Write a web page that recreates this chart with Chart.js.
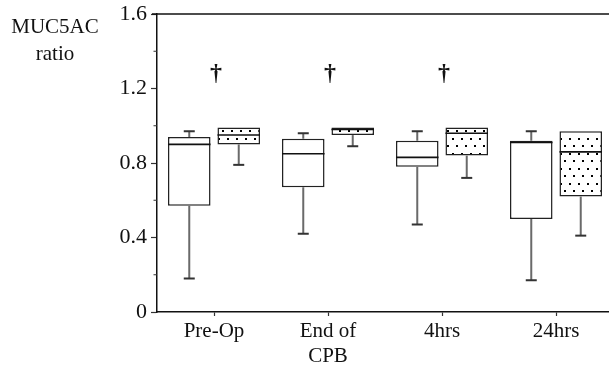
<!DOCTYPE html>
<html>
<head>
<meta charset="utf-8">
<script src="https://cdn.jsdelivr.net/npm/chart.js@4.4.0/dist/chart.umd.min.js"></script>
<style>
    html, body { margin: 0; padding: 0; background: #fff; overflow: hidden; }
</style>
</head>
<body>
<canvas id="myChart" width="613" height="366"></canvas>
<script>
// box plot values (MUC5AC ratio)
const categories = ['Pre-Op', ['End of', 'CPB'], '4hrs', '24hrs'];

const plainMin    = [0.18, 0.42, 0.47, 0.17];
const plainQ1     = [0.57, 0.67, 0.78, 0.50];
const plainMedian = [0.90, 0.85, 0.83, 0.91];
const plainQ3     = [0.94, 0.93, 0.92, 0.92];
const plainMax    = [0.97, 0.96, 0.97, 0.97];

const dottedMin    = [0.79, 0.89, 0.72, 0.41];
const dottedQ1     = [0.90, 0.95, 0.84, 0.62];
const dottedMedian = [0.95, 0.98, 0.96, 0.86];
const dottedQ3     = [0.99, 0.99, 0.99, 0.97];
const dottedMax    = [0.99, 0.99, 0.99, 0.97];

// dagger marks (significance) above the groups
const daggers = [1.28, 1.28, 1.28, null];

const yTicks = [0, 0.4, 0.8, 1.2, 1.6];
const yMinorTicks = [0.2, 0.6, 1.0, 1.4];

const FONT = "'Liberation Serif', 'Times New Roman', serif";

function isMajor(v) {
    return yTicks.some(t => Math.abs(t - v) < 1e-6);
}

function dotPattern() {
    const c = document.createElement('canvas');
    c.width = 9;
    c.height = 15;
    const g = c.getContext('2d');
    g.fillStyle = '#fff';
    g.fillRect(0, 0, 9, 15);
    g.fillStyle = '#000';
    g.fillRect(2, 3, 2, 2);
    g.fillRect(6, 10, 2, 2);
    return g.createPattern(c, 'repeat');
}

const boxPlugin = {
    id: 'boxWhiskers',
    afterDatasetsDraw(chart) {
        const ctx = chart.ctx;
        const y = chart.scales.y;
        chart.data.datasets.forEach((ds, i) => {
            const meta = chart.getDatasetMeta(i);
            meta.data.forEach((bar, j) => {
                const x = bar.x;
                const half = bar.width / 2;
                const lo = y.getPixelForValue(ds.lows[j]);
                const q1 = y.getPixelForValue(ds.data[j][0]);
                const q3 = y.getPixelForValue(ds.data[j][1]);
                const hi = y.getPixelForValue(ds.highs[j]);
                const med = y.getPixelForValue(ds.medians[j]);

                ctx.save();
                // whiskers
                ctx.strokeStyle = '#6a6a6a';
                ctx.lineWidth = 2;
                ctx.beginPath();
                if (hi < q3 - 0.5) {
                    ctx.moveTo(x, q3);
                    ctx.lineTo(x, hi);
                }
                ctx.moveTo(x, q1);
                ctx.lineTo(x, lo);
                ctx.stroke();
                // caps
                ctx.strokeStyle = '#333';
                ctx.lineWidth = 2;
                ctx.beginPath();
                ctx.moveTo(x - 5.5, lo);
                ctx.lineTo(x + 5.5, lo);
                if (hi < q3 - 0.5) {
                    ctx.moveTo(x - 5.5, hi);
                    ctx.lineTo(x + 5.5, hi);
                }
                ctx.stroke();
                // median
                ctx.strokeStyle = '#111';
                ctx.lineWidth = 1.6;
                ctx.beginPath();
                ctx.moveTo(x - half, med);
                ctx.lineTo(x + half, med);
                ctx.stroke();
                ctx.restore();
            });
        });
    },
    afterDraw(chart) {
        const ctx = chart.ctx;
        const area = chart.chartArea;
        const xs = chart.scales.x;
        const y = chart.scales.y;
        ctx.save();
        // top frame line
        ctx.strokeStyle = '#111';
        ctx.lineWidth = 1.5;
        ctx.beginPath();
        ctx.moveTo(area.left - 5, area.top);
        ctx.lineTo(area.right, area.top);
        ctx.stroke();

        // short minor ticks on the y axis
        ctx.strokeStyle = '#333';
        ctx.lineWidth = 1.2;
        ctx.beginPath();
        yMinorTicks.forEach(v => {
            const py = y.getPixelForValue(v);
            ctx.moveTo(area.left - 3.5, py);
            ctx.lineTo(area.left, py);
        });
        ctx.stroke();

        // daggers
        ctx.fillStyle = '#111';
        ctx.font = 'bold 24px ' + FONT;
        ctx.textAlign = 'center';
        ctx.textBaseline = 'middle';
        daggers.forEach((v, j) => {
            if (v === null) return;
            ctx.fillText('\u2020', xs.getPixelForValue(j) + 2, y.getPixelForValue(v));
        });

        // axis title, written flat in the top left corner
        ctx.font = '21px ' + FONT;
        ctx.textBaseline = 'alphabetic';
        ctx.fillText('MUC5AC', 55, 33);
        ctx.fillText('ratio', 55, 60);
        ctx.restore();
    }
};

new Chart('myChart', {
    type: 'bar',
    data: {
        labels: categories,
        datasets: [
            {
                data: plainQ1.map((v, i) => [v, plainQ3[i]]),
                lows: plainMin,
                highs: plainMax,
                medians: plainMedian,
                backgroundColor: '#fff',
                borderColor: '#222',
                borderWidth: 1.5,
                borderSkipped: false
            },
            {
                data: dottedQ1.map((v, i) => [v, dottedQ3[i]]),
                lows: dottedMin,
                highs: dottedMax,
                medians: dottedMedian,
                backgroundColor: dotPattern(),
                borderColor: '#222',
                borderWidth: 1.5,
                borderSkipped: false
            }
        ]
    },
    options: {
        responsive: false,
        animation: false,
        categoryPercentage: 0.868,
        barPercentage: 0.86,
        layout: { padding: { top: 14, right: 0, bottom: 0, left: 0 } },
        plugins: {
            legend: { display: false },
            tooltip: { enabled: false }
        },
        scales: {
            x: {
                afterFit: s => { s.height = 54; },
                grid: {
                    offset: false,
                    drawOnChartArea: false,
                    tickLength: 4,
                    tickColor: '#333',
                    tickWidth: 1.2
                },
                border: { display: true, color: '#111', width: 1.5 },
                ticks: {
                    color: '#111',
                    padding: 3,
                    font: { family: FONT, size: 21 }
                }
            },
            y: {
                min: 0,
                max: 1.6,
                afterFit: s => {
                    s.width = 157;
                    s.paddingTop = 0;
                    s.paddingBottom = 0;
                },
                grid: {
                    drawOnChartArea: false,
                    tickLength: 6,
                    tickColor: c => isMajor(c.tick.value) ? '#333' : 'rgba(0,0,0,0)',
                    tickWidth: 1.2
                },
                border: { display: true, color: '#111', width: 1.5 },
                ticks: {
                    stepSize: 0.2,
                    color: '#111',
                    padding: 4,
                    font: { family: FONT, size: 22 },
                    callback: v => {
                        if (!isMajor(v)) return '';
                        return Math.abs(v) < 1e-6 ? '0' : v.toFixed(1);
                    }
                }
            }
        }
    },
    plugins: [boxPlugin]
});
</script>
</body>
</html>
